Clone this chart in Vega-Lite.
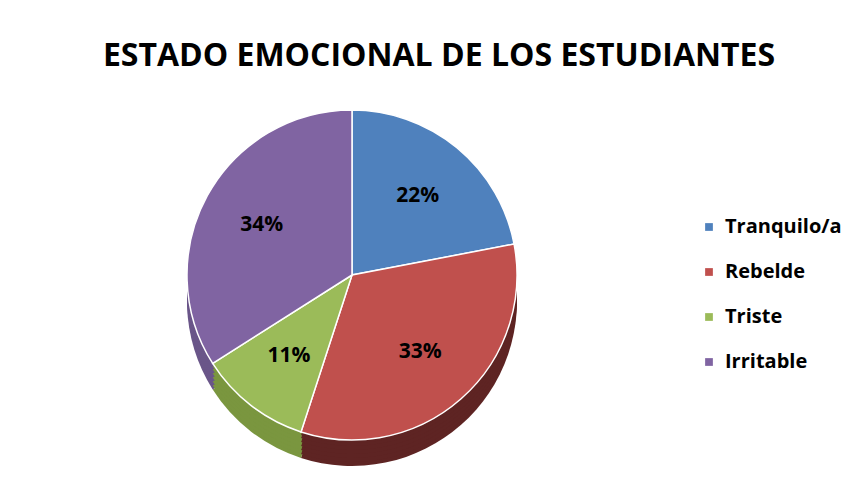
{
  "$schema": "https://vega.github.io/schema/vega-lite/v6.json",
  "width": 680,
  "height": 330,
  "padding": {"left": 12, "top": 40, "right": 0, "bottom": 0},
  "background": "white",
  "title": {
    "text": "ESTADO EMOCIONAL DE LOS ESTUDIANTES",
    "font": "Open Sans",
    "fontSize": 32,
    "fontWeight": "bold",
    "color": "black",
    "anchor": "middle",
    "dx": 87,
    "offset": 34
  },
  "data": {
    "values": [
      {"estado": "Tranquilo/a", "valor": 0.22, "orden": 1},
      {"estado": "Rebelde", "valor": 0.33, "orden": 2},
      {"estado": "Triste", "valor": 0.11, "orden": 3},
      {"estado": "Irritable", "valor": 0.34, "orden": 4}
    ]
  },
  "encoding": {
    "theta": {"field": "valor", "type": "quantitative", "stack": true},
    "order": {"field": "orden", "type": "quantitative"}
  },
  "layer": [
    {"mark": {"type": "arc", "yOffset": 26}, "encoding": {"fill": {"field": "estado", "type": "nominal", "scale": {"domain": ["Irritable", "Rebelde", "Triste", "Tranquilo/a"], "range": ["#6a5689", "#5e2423", "#7a963f", "#3e6796"]}, "legend": null}}},
    {"mark": {"type": "arc", "yOffset": 22}, "encoding": {"fill": {"field": "estado", "type": "nominal", "legend": null}}},
    {"mark": {"type": "arc", "yOffset": 18}, "encoding": {"fill": {"field": "estado", "type": "nominal", "legend": null}}},
    {"mark": {"type": "arc", "yOffset": 14}, "encoding": {"fill": {"field": "estado", "type": "nominal", "legend": null}}},
    {"mark": {"type": "arc", "yOffset": 10}, "encoding": {"fill": {"field": "estado", "type": "nominal", "legend": null}}},
    {"mark": {"type": "arc", "yOffset": 6}, "encoding": {"fill": {"field": "estado", "type": "nominal", "legend": null}}},
    {"mark": {"type": "arc", "yOffset": 3}, "encoding": {"fill": {"field": "estado", "type": "nominal", "legend": null}}},
    {
      "mark": {"type": "arc", "stroke": "white", "strokeWidth": 1.5},
      "encoding": {
        "color": {
          "field": "estado",
          "type": "nominal",
          "sort": null,
          "scale": {"domain": ["Tranquilo/a", "Rebelde", "Triste", "Irritable"], "range": ["#4f81bd", "#c0504d", "#9bbb59", "#8064a2"]},
          "legend": {
            "orient": "none",
            "legendX": 687,
            "legendY": 107,
            "title": null,
            "symbolType": "square",
            "symbolSize": 60,
            "symbolStrokeWidth": 0,
            "labelFont": "Open Sans",
            "labelFontSize": 20,
            "labelFontWeight": "bold",
            "labelColor": "black",
            "rowPadding": 25,
            "labelOffset": 6
          }
        }
      }
    },
    {
      "mark": {"type": "text", "radius": 103, "font": "Open Sans", "fontSize": 21, "fontWeight": "bold", "color": "black"},
      "encoding": {"text": {"field": "valor", "type": "quantitative", "format": ".0%"}}
    }
  ],
  "config": {"view": {"stroke": null}}
}
